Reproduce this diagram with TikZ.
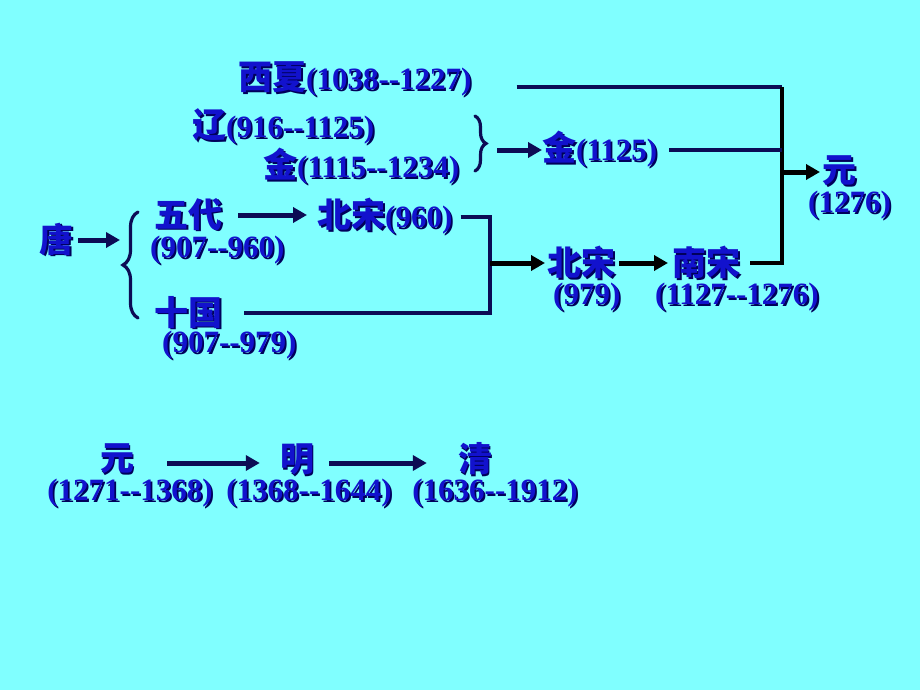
\documentclass[tikz,border=0pt]{standalone}
\usepackage{fontspec}
\setmainfont{Liberation Serif}
\newfontfamily\cjkf{Noto Sans CJK SC}
\newfontfamily\numf{Liberation Serif}
\usetikzlibrary{arrows.meta,decorations.pathreplacing}
\definecolor{bg}{RGB}{128,255,255}
\definecolor{txt}{RGB}{18,18,205}
\definecolor{shd}{RGB}{0,0,90}
\definecolor{navy}{RGB}{12,12,85}
\newcommand\C[1]{{\cjkf\bfseries\fontsize{34}{36}\selectfont #1}}
\newcommand\shtx[1]{\rlap{\kern1.8pt\raisebox{-1.8pt}{\color{shd}#1}}#1}
\begin{document}
\begin{tikzpicture}[x=1pt,y=-1pt,
  t/.style={inner sep=0pt, text=txt, font=\numf\bfseries\fontsize{31}{33}\selectfont, anchor=west},
  tc/.style={t, anchor=center},
  ln/.style={navy, line width=4pt},
  blk/.style={black, line width=4pt},
  arr/.style={navy, line width=5pt, -{Triangle[length=14pt,width=15pt]}},
  arrk/.style={black, line width=5pt, -{Triangle[length=14pt,width=15pt]}},
  brc/.style={navy, line width=3.2pt, line cap=round, decorate}]
\fill[bg] (0,0) rectangle (920,690);
\useasboundingbox (0,0) rectangle (920,690);

% upper group
\node[t] (xixia) at (238,80) {\shtx{\C{西夏}(1038-{}-1227)}};
\node[t] (liao) at (192,127) {\shtx{\C{辽}(916-{}-1125)}};
\node[t] (jin1) at (263,167) {\shtx{\C{金}(1115-{}-1234)}};
\draw[brc, decoration={brace, amplitude=11pt}] (475,116) -- (475,171);
\coordinate (rbtip) at (497,150);
\node[t] (jin2) at (542,150) {\shtx{\C{金}(1125)}};
\draw[arr] (rbtip) -- (rbtip -| jin2.west);

% left part
\node[t] (tang) at (39,240) {\shtx{\C{唐}}};
\coordinate (lbtip) at (120,240);
\draw[arr] ([xshift=5pt]tang.east) -- (lbtip);
\draw[brc, decoration={brace, amplitude=15pt}] (138,318) -- (138,212);
\node[t] (wudai) at (154,215) {\shtx{\C{五代}}};
\node[t] (wudaiy) at (150,251) {\shtx{(907-{}-960)}};
\node[t] (shiguo) at (154,313) {\shtx{\C{十国}}};
\node[t] (shiguoy) at (162,346) {\shtx{(907-{}-979)}};
\node[t] (bs1) at (317,217) {\shtx{\C{北宋}(960)}};
\coordinate (wa) at ([xshift=16pt]wudai.east);
\coordinate (wb) at ([xshift=-10pt]bs1.west);
\draw[arr] (wa) -- (wa -| wb);

\coordinate (jA) at (490,263);
\draw[ln] ([xshift=8pt]bs1.east) -| (jA) |- ([xshift=22pt]shiguo.east);

\node[t] (bs2) at (547,263) {\shtx{\C{北宋}}};
\node[t] (bs2y) at (553,298) {\shtx{(979)}};
\node[t] (ns) at (672,263) {\shtx{\C{南宋}}};
\node[t] (nsy) at (655,298) {\shtx{(1127-{}-1276)}};
\draw[arrk] (jA) -- ([xshift=-2pt]bs2.west);
\draw[arrk] ([xshift=4pt]bs2.east) -- ([xshift=-4pt]ns.west);

% right collector
\coordinate (rt) at (782,87);
\coordinate (rb) at (782,263);
\coordinate (rm) at (782,172);
\node[t] (yuan) at (822,172) {\shtx{\C{元}}};
\node[t] (yuany) at (808,206) {\shtx{(1276)}};
\coordinate (xl) at ([xshift=45pt]xixia.east);
\draw[ln] (xl |- rt) -- (rt);
\draw[blk] (rt) -- (rb) -- ([xshift=10pt]ns.east);
\draw[ln] ([xshift=12pt]jin2.east) -- (rm |- jin2.east);
\draw[arrk] (rm) -- ([xshift=-2pt]yuan.west);

% bottom row
\node[tc] (yuan2) at (117,460) {\shtx{\C{元}}};
\node[tc] (yuan2y) at (130,494) {\shtx{(1271-{}-1368)}};
\node[tc] (ming) at (297,460) {\shtx{\C{明}}};
\node[tc] (mingy) at (309,494) {\shtx{(1368-{}-1644)}};
\node[tc] (qing) at (475,460) {\shtx{\C{清}}};
\node[tc] (qingy) at (495,494) {\shtx{(1636-{}-1912)}};
\draw[arr] ([xshift=33pt,yshift=-3pt]yuan2.east) -- ([xshift=-20pt,yshift=-3pt]ming.west);
\draw[arr] ([xshift=15pt,yshift=-3pt]ming.east) -- ([xshift=-31pt,yshift=-3pt]qing.west);
\end{tikzpicture}
\end{document}
